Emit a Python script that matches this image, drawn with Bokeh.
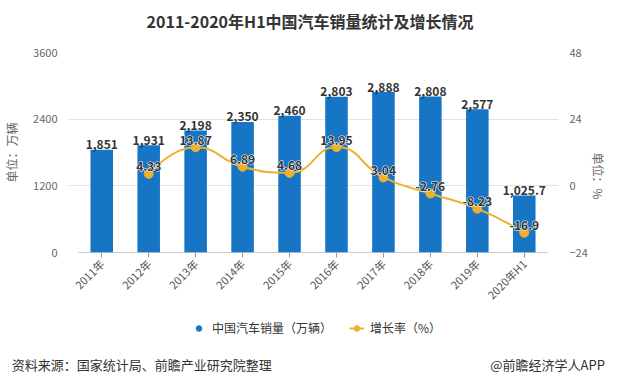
import math
from bokeh.plotting import figure
from bokeh.layouts import column
from bokeh.models import (Range1d, LinearAxis, FixedTicker, ColumnDataSource,
                          Legend, LegendItem)
from bokeh.core.properties import value
from bokeh.embed import file_html
from bokeh.resources import INLINE

# ---------------- data ----------------
categories = ["2011年", "2012年", "2013年", "2014年", "2015年",
              "2016年", "2017年", "2018年", "2019年", "2020年H1"]
sales = [1851, 1931, 2198, 2350, 2460, 2803, 2888, 2808, 2577, 1025.7]
growth_categories = categories[1:]
growth = [4.33, 13.87, 6.89, 4.68, 13.95, 3.04, -2.76, -8.23, -16.9]
left_ticks = [0, 1200, 2400, 3600]
right_ticks = [-24, 0, 24, 48]

title_text = "2011-2020年H1中国汽车销量统计及增长情况"
source_text = "资料来源：国家统计局、前瞻产业研究院整理"
brand_text = "@前瞻经济学人APP"
bar_name = "中国汽车销量（万辆）"
line_name = "增长率（%）"

# ---------------- styles / layout ----------------
FONT = "Noto Sans CJK SC"
BAR_COLOR = "#1775C5"
LINE_COLOR = "#EDB12F"
TEXT_DARK = "#333333"
AXIS_GREY = "#666666"

W = 618
TOP_H = 40
ML, MR, MT, MB = 62, 55, 12, 58
FRAME_H = 200
MAIN_H = MT + FRAME_H + MB
BOT_H = 384 - TOP_H - MAIN_H
frame_w = W - ML - MR
NAN = float("nan")

n = len(categories)
pad_l = 10 / 48
pad_r = 11 / 48
x_range = Range1d(-0.5 - pad_l, n - 0.5 + pad_r)
y_range = Range1d(left_ticks[0], left_ticks[-1])

sx = frame_w / (x_range.end - x_range.start)
sy = FRAME_H / (right_ticks[-1] - right_ticks[0])


def px_to_x(px):
    return x_range.start + (px - ML) / sx


def strip(h, mb=0):
    f = figure(width=W, height=h, x_range=x_range, y_range=Range1d(0, h),
               x_axis_type=None, y_axis_type=None, output_backend="svg",
               toolbar_location=None, min_border_left=ML, min_border_right=MR,
               min_border_top=0, min_border_bottom=mb)
    f.grid.visible = False
    f.outline_line_color = None
    f.background_fill_color = "white"
    f.border_fill_color = "white"
    return f


# ---------------- title strip ----------------
top = strip(TOP_H)
top.text(x=[px_to_x(309)], y=[TOP_H - 20], text=[title_text], text_align="center",
         text_baseline="middle", text_font=value(FONT), text_font_size="16px",
         text_font_style="bold", text_color=TEXT_DARK)

# ---------------- main chart ----------------
p = figure(width=W, height=MAIN_H, x_range=x_range, y_range=y_range,
           output_backend="svg", toolbar_location=None,
           min_border_left=ML, min_border_right=MR,
           min_border_top=MT, min_border_bottom=MB)
p.extra_y_ranges = {"pct": Range1d(right_ticks[0], right_ticks[-1])}
p.outline_line_color = None
p.background_fill_color = "white"
p.border_fill_color = "white"

xs = list(range(n))
xa = p.xaxis[0]
xa.ticker = FixedTicker(ticks=xs)
xa.major_label_overrides = {i: c for i, c in enumerate(categories)}
xa.major_label_orientation = math.pi / 4
xa.axis_line_color = None
xa.major_tick_line_color = "#999999"
xa.major_tick_out = 5
xa.major_tick_in = 0
xa.minor_tick_line_color = None
xa.major_label_text_font = FONT
xa.major_label_text_font_size = "11px"
xa.major_label_text_color = "#555555"
xa.major_label_standoff = 4
p.xgrid.visible = False

ya = p.yaxis[0]
ya.ticker = FixedTicker(ticks=left_ticks)
ya.axis_line_color = None
ya.major_tick_line_color = None
ya.minor_tick_line_color = None
ya.major_label_text_font = FONT
ya.major_label_text_font_size = "11px"
ya.major_label_text_color = AXIS_GREY
ya.major_label_standoff = 5
ya.axis_label = "单位：万辆"
ya.axis_label_text_font = FONT
ya.axis_label_text_font_size = "12px"
ya.axis_label_text_font_style = "normal"
ya.axis_label_text_color = AXIS_GREY
ya.axis_label_standoff = 10
p.ygrid.ticker = FixedTicker(ticks=left_ticks)
p.ygrid.grid_line_color = "#E3E3E3"

ra = LinearAxis(y_range_name="pct", ticker=FixedTicker(ticks=right_ticks))
ra.axis_line_color = None
ra.major_tick_line_color = None
ra.minor_tick_line_color = None
ra.major_label_text_font = FONT
ra.major_label_text_font_size = "11px"
ra.major_label_text_color = AXIS_GREY
ra.major_label_standoff = 5
ra.axis_label = "单位：%"
ra.axis_label_orientation = -math.pi / 2
ra.axis_label_text_font = FONT
ra.axis_label_text_font_size = "12px"
ra.axis_label_text_font_style = "normal"
ra.axis_label_text_color = AXIS_GREY
ra.axis_label_standoff = 8
p.add_layout(ra, "right")

# axis baseline under the categories
p.segment(x0=[-0.5], y0=[0], x1=[n - 0.5], y1=[0], line_color="#999999", line_width=1)

# bars + labels
bar_src = ColumnDataSource(dict(x=xs, top=sales, label=[f"{v:,}" for v in sales]))
p.vbar(x="x", top="top", width=0.48, source=bar_src, fill_color=BAR_COLOR, line_color=None)
p.text(x="x", y="top", text="label", source=bar_src,
       text_align="center", text_baseline="alphabetic", y_offset=-5,
       text_font=value(FONT), text_font_size="12px", text_font_style="bold",
       text_color=TEXT_DARK)

# smoothed growth line (ECharts-like smoothing, control points clamped)
gx = [categories.index(c) for c in growth_categories]


def clamp(v, a, b):
    return max(min(a, b), min(max(a, b), v))


P = [(x * sx, y * sy) for x, y in zip(gx, growth)]
m = len(P)
cp_in = list(P)
cp_out = list(P)
smooth = 0.5
for i in range(1, m - 1):
    x, y = P[i]
    px_, py_ = P[i - 1]
    nx_, ny_ = P[i + 1]
    vx, vy = nx_ - px_, ny_ - py_
    l0 = math.hypot(x - px_, y - py_)
    l1 = math.hypot(nx_ - x, ny_ - y)
    r = l1 / (l0 + l1)
    cx = clamp(x + vx * smooth * r, x, nx_)
    cy = clamp(y + vy * smooth * r, y, ny_)
    vx, vy = cx - x, cy - y
    bx = clamp(x - vx * l0 / l1, px_, x)
    by = clamp(y - vy * l0 / l1, py_, y)
    vx, vy = x - bx, y - by
    cx = x + vx * l1 / l0
    cy = y + vy * l1 / l0
    cp_in[i] = (bx, by)
    cp_out[i] = (cx, cy)

bz = dict(x0=[], y0=[], x1=[], y1=[], cx0=[], cy0=[], cx1=[], cy1=[])
for i in range(m - 1):
    bz["x0"].append(gx[i]); bz["y0"].append(growth[i])
    bz["x1"].append(gx[i + 1]); bz["y1"].append(growth[i + 1])
    bz["cx0"].append(cp_out[i][0] / sx); bz["cy0"].append(cp_out[i][1] / sy)
    bz["cx1"].append(cp_in[i + 1][0] / sx); bz["cy1"].append(cp_in[i + 1][1] / sy)
p.bezier(x0="x0", y0="y0", x1="x1", y1="y1", cx0="cx0", cy0="cy0", cx1="cx1", cy1="cy1",
         source=ColumnDataSource(bz), y_range_name="pct", line_color=LINE_COLOR, line_width=2)

g_src = ColumnDataSource(dict(x=gx, y=growth, label=[f"{v:g}" for v in growth]))
p.scatter(x="x", y="y", source=g_src, y_range_name="pct", marker="circle", size=9,
          fill_color=LINE_COLOR, line_color=LINE_COLOR)
label_style = dict(text_align="center", text_baseline="alphabetic", y_offset=-7,
                   text_font=value(FONT), text_font_size="12px", text_font_style="bold")
p.text(x="x", y="y", text="label", source=g_src, y_range_name="pct",
       text_color="white", text_outline_color="white", **label_style)
p.text(x="x", y="y", text="label", source=g_src, y_range_name="pct",
       text_color=TEXT_DARK, **label_style)

# ---------------- legend + footer strip ----------------
BOT_MB = 32
bot = strip(BOT_H, BOT_MB)
leg_bar = bot.scatter(x=[NAN], y=[NAN], marker="circle", size=11,
                      fill_color=BAR_COLOR, line_color=BAR_COLOR)
leg_line = bot.line(x=[NAN, NAN], y=[NAN, NAN], line_color=LINE_COLOR, line_width=2)
leg_pt = bot.scatter(x=[NAN], y=[NAN], marker="circle", size=7,
                     fill_color=LINE_COLOR, line_color=LINE_COLOR)
bot_frame_bottom = TOP_H + MAIN_H + BOT_H - BOT_MB   # page y of the strip's frame bottom
legend = Legend(items=[LegendItem(label=bar_name, renderers=[leg_bar]),
                       LegendItem(label=line_name, renderers=[leg_line, leg_pt])],
                orientation="horizontal", location=(185 - ML, bot_frame_bottom - 336),
                padding=0, margin=0, spacing=17, label_standoff=6,
                glyph_width=15, glyph_height=14, label_height=14,
                label_text_font=FONT, label_text_font_size="12px",
                label_text_color=TEXT_DARK,
                border_line_color=None, background_fill_alpha=0)
bot.add_layout(legend)

# footer line (source left, brand right) as a label-only axis under the strip
FOOT_PX = 13
src_w = len(source_text) * FOOT_PX
brand_w = 8.8 * FOOT_PX
footer_ticks = [px_to_x(7 + src_w / 2), px_to_x(609 - brand_w / 2)]
fa = LinearAxis(ticker=FixedTicker(ticks=footer_ticks),
                major_label_overrides={footer_ticks[0]: source_text,
                                       footer_ticks[1]: brand_text})
fa.axis_line_color = None
fa.major_tick_line_color = None
fa.minor_tick_line_color = None
fa.major_tick_out = 0
fa.major_label_standoff = 2
fa.major_label_text_font = FONT
fa.major_label_text_font_size = f"{FOOT_PX}px"
fa.major_label_text_color = TEXT_DARK
bot.add_layout(fa, "below")

layout = column(top, p, bot, spacing=0)
open("out.html", "w").write(file_html(layout, INLINE))
